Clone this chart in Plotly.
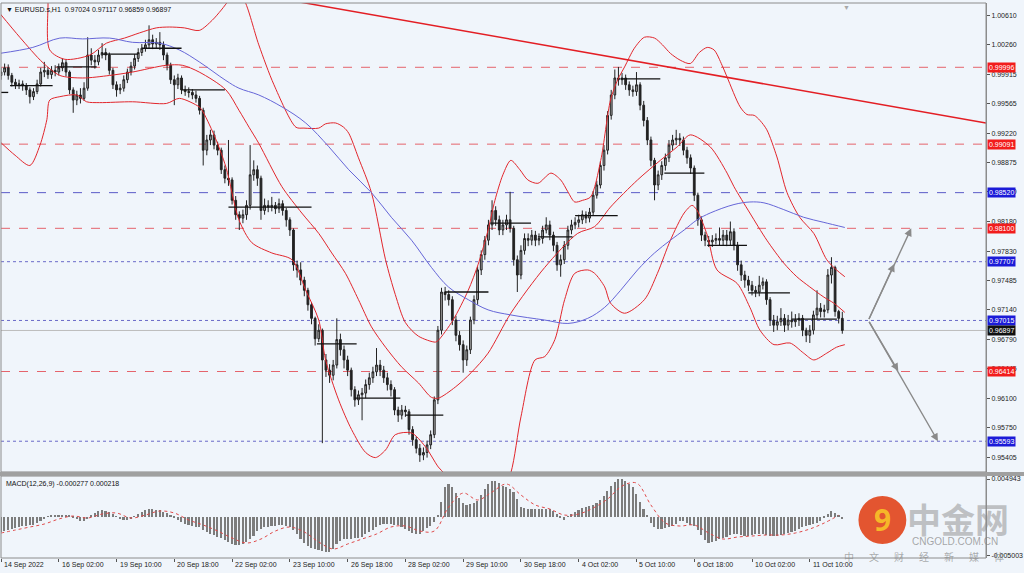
import plotly.graph_objects as go

# ---------------- DATA ----------------
bar_index = list(range(234))   # 2-hour bars
closes = [
0.9994,0.9999,0.9990,0.9982,0.9979,0.9980,0.9978,0.9973,0.9965,0.9971,0.9980,0.9994,0.9996,0.9991,0.9996,0.9994,
0.9999,1.0005,0.9994,0.9973,0.9961,0.9967,0.9963,0.9975,1.0014,1.0008,1.0006,1.0014,1.0017,1.0014,0.9996,0.9979,
0.9973,0.9975,0.9985,0.9994,1.0001,1.0010,1.0017,1.0022,1.0026,1.0032,1.0027,1.0029,1.0026,1.0014,1.0002,0.9985,
0.9979,0.9987,0.9973,0.9971,0.9970,0.9967,0.9963,0.9949,0.9902,0.9914,0.9920,0.9908,0.9902,0.9879,0.9869,0.9867,
0.9843,0.9826,0.9822,0.9826,0.9837,0.9873,0.9879,0.9869,0.9831,0.9837,0.9835,0.9837,0.9833,0.9839,0.9831,0.9820,
0.9808,0.9767,0.9761,0.9749,0.9737,0.9720,0.9704,0.9680,0.9690,0.9655,0.9643,0.9637,0.9649,0.9679,0.9667,0.9655,
0.9643,0.9620,0.9608,0.9614,0.9616,0.9626,0.9634,0.9641,0.9649,0.9643,0.9634,0.9626,0.9620,0.9596,0.9590,0.9596,
0.9594,0.9573,0.9561,0.9551,0.9543,0.9546,0.9555,0.9567,0.9608,0.9690,0.9735,0.9732,0.9726,0.9702,0.9684,0.9673,
0.9655,0.9667,0.9702,0.9726,0.9761,0.9779,0.9796,0.9814,0.9831,0.9820,0.9808,0.9814,0.9820,0.9810,0.9773,0.9755,
0.9784,0.9798,0.9796,0.9802,0.9796,0.9798,0.9808,0.9814,0.9802,0.9790,0.9767,0.9773,0.9790,0.9808,0.9814,0.9817,
0.9820,0.9826,0.9822,0.9829,0.9849,0.9861,0.9884,0.9902,0.9943,0.9967,0.9987,0.9985,0.9987,0.9979,0.9973,0.9971,
0.9979,0.9955,0.9937,0.9914,0.9890,0.9861,0.9873,0.9884,0.9893,0.9908,0.9914,0.9916,0.9914,0.9902,0.9893,0.9881,
0.9849,0.9820,0.9802,0.9796,0.9794,0.9796,0.9798,0.9796,0.9802,0.9796,0.9806,0.9790,0.9767,0.9755,0.9749,0.9743,
0.9737,0.9735,0.9743,0.9747,0.9726,0.9702,0.9696,0.9700,0.9704,0.9696,0.9702,0.9700,0.9702,0.9704,0.9690,0.9684,
0.9690,0.9708,0.9716,0.9712,0.9714,0.9755,0.9764,0.9712,0.9704,0.96897]
highs = [
0.9999,1.0004,1.0003,0.9993,0.9986,0.9985,0.9984,0.9981,0.9976,0.9975,0.9985,0.9999,1.0006,1.0000,1.0001,1.0002,
1.0004,1.0010,1.0008,0.9996,0.9976,0.9972,0.9975,0.9982,1.0035,1.0022,1.0014,1.0020,1.0028,1.0022,1.0017,0.9999,
0.9983,0.9980,0.9990,0.9998,1.0006,1.0015,1.0022,1.0027,1.0032,1.0049,1.0038,1.0034,1.0041,1.0030,1.0017,1.0005,
0.9990,0.9992,0.9990,0.9978,0.9976,0.9974,0.9972,0.9966,0.9952,0.9920,0.9926,0.9925,0.9912,0.9905,0.9884,0.9914,
0.9870,0.9848,0.9830,0.9832,0.9843,0.9908,0.9890,0.9884,0.9872,0.9845,0.9843,0.9847,0.9841,0.9845,0.9843,0.9834,
0.9823,0.9810,0.9772,0.9770,0.9753,0.9740,0.9723,0.9706,0.9697,0.9692,0.9662,0.9650,0.9655,0.9704,0.9686,0.9672,
0.9660,0.9646,0.9624,0.9619,0.9622,0.9632,0.9640,0.9647,0.9669,0.9655,0.9648,0.9640,0.9631,0.9623,0.9600,0.9602,
0.9601,0.9597,0.9577,0.9565,0.9556,0.9552,0.9560,0.9572,0.9612,0.9695,0.9740,0.9741,0.9737,0.9730,0.9707,0.9689,
0.9678,0.9672,0.9706,0.9731,0.9765,0.9784,0.9801,0.9820,0.9843,0.9836,0.9825,0.9820,0.9826,0.9853,0.9813,0.9778,
0.9790,0.9804,0.9804,0.9808,0.9807,0.9804,0.9813,0.9823,0.9819,0.9806,0.9794,0.9779,0.9795,0.9813,0.9820,0.9823,
0.9826,0.9831,0.9830,0.9834,0.9854,0.9866,0.9889,0.9908,0.9948,0.9973,0.9997,1.0000,0.9993,0.9991,0.9983,0.9978,
0.9994,0.9982,0.9960,0.9941,0.9918,0.9893,0.9878,0.9889,0.9898,0.9914,0.9920,0.9926,0.9922,0.9918,0.9906,0.9897,
0.9884,0.9852,0.9824,0.9806,0.9801,0.9802,0.9804,0.9811,0.9808,0.9808,0.9818,0.9810,0.9794,0.9772,0.9760,0.9754,
0.9748,0.9742,0.9754,0.9752,0.9750,0.9729,0.9708,0.9707,0.9716,0.9709,0.9708,0.9712,0.9709,0.9710,0.9708,0.9693,
0.9696,0.9713,0.9737,0.9722,0.9720,0.9762,0.9776,0.9766,0.9714,0.97117]
lows = [
0.9985,0.9990,0.9985,0.9977,0.9974,0.9974,0.9972,0.9967,0.9957,0.9961,0.9968,0.9977,0.9988,0.9986,0.9986,0.9989,
0.9990,0.9995,0.9989,0.9968,0.9946,0.9955,0.9957,0.9960,0.9972,1.0002,0.9998,1.0002,1.0010,1.0008,0.9991,0.9974,
0.9965,0.9968,0.9971,0.9981,0.9990,0.9997,1.0006,1.0013,1.0018,1.0022,1.0021,1.0022,1.0020,1.0008,0.9996,0.9980,
0.9955,0.9974,0.9968,0.9966,0.9964,0.9962,0.9958,0.9944,0.9884,0.9896,0.9908,0.9903,0.9896,0.9874,0.9863,0.9860,
0.9838,0.9820,0.9808,0.9816,0.9820,0.9832,0.9866,0.9860,0.9820,0.9826,0.9829,0.9830,0.9827,0.9828,0.9825,0.9812,
0.9801,0.9760,0.9752,0.9743,0.9730,0.9713,0.9697,0.9672,0.9676,0.9557,0.9635,0.9628,0.9631,0.9645,0.9660,0.9645,
0.9636,0.9612,0.9600,0.9602,0.9584,0.9610,0.9620,0.9628,0.9636,0.9636,0.9628,0.9619,0.9612,0.9590,0.9582,0.9585,
0.9588,0.9567,0.9554,0.9545,0.9535,0.9537,0.9540,0.9550,0.9563,0.9603,0.9685,0.9725,0.9719,0.9696,0.9677,0.9666,
0.9640,0.9648,0.9662,0.9697,0.9720,0.9755,0.9773,0.9790,0.9808,0.9813,0.9802,0.9802,0.9808,0.9805,0.9766,0.9735,
0.9750,0.9779,0.9789,0.9790,0.9789,0.9790,0.9792,0.9804,0.9796,0.9783,0.9760,0.9753,0.9768,0.9785,0.9803,0.9809,
0.9811,0.9815,0.9816,0.9817,0.9825,0.9845,0.9857,0.9878,0.9897,0.9938,0.9962,0.9978,0.9979,0.9973,0.9966,0.9965,
0.9966,0.9949,0.9930,0.9908,0.9883,0.9843,0.9855,0.9867,0.9878,0.9888,0.9902,0.9908,0.9907,0.9896,0.9886,0.9874,
0.9842,0.9813,0.9795,0.9789,0.9788,0.9788,0.9791,0.9790,0.9790,0.9789,0.9790,0.9784,0.9760,0.9748,0.9740,0.9736,
0.9731,0.9729,0.9730,0.9738,0.9720,0.9695,0.9688,0.9690,0.9695,0.9688,0.9690,0.9693,0.9694,0.9695,0.9683,0.9676,
0.9675,0.9685,0.9703,0.9705,0.9705,0.9710,0.9745,0.9706,0.9698,0.96859]
first_open = 0.9990
opens = [first_open] + closes[:-1]

macd_main = [
-0.00195,-0.00182,-0.00169,-0.00156,-0.00143,-0.00130,-0.00117,-0.00117,-0.00104,-0.00104,-0.00078,-0.00052,-0.00026,0.00002,0.00013,0.00013,
0.00026,0.00026,0.00026,0.00013,-0.00002,-0.00026,-0.00052,-0.00052,-0.00026,0.00013,0.00052,0.00078,0.00091,0.00078,0.00065,0.00039,
0.00002,-0.00026,-0.00039,-0.00039,-0.00026,0.00002,0.00039,0.00065,0.00091,0.00104,0.00104,0.00091,0.00091,0.00065,0.00052,0.00026,
-0.00013,-0.00039,-0.00065,-0.00091,-0.00104,-0.00117,-0.00130,-0.00130,-0.00169,-0.00195,-0.00221,-0.00234,-0.00260,-0.00273,-0.00299,-0.00325,
-0.00351,-0.00364,-0.00364,-0.00351,-0.00325,-0.00286,-0.00247,-0.00182,-0.00156,-0.00130,-0.00130,-0.00117,-0.00117,-0.00104,-0.00104,-0.00117,
-0.00130,-0.00169,-0.00221,-0.00286,-0.00338,-0.00377,-0.00403,-0.00416,-0.00429,-0.00442,-0.00455,-0.00455,-0.00416,-0.00351,-0.00312,-0.00286,
-0.00286,-0.00286,-0.00273,-0.00273,-0.00260,-0.00221,-0.00195,-0.00169,-0.00130,-0.00104,-0.00091,-0.00091,-0.00091,-0.00104,-0.00104,-0.00130,
-0.00156,-0.00182,-0.00208,-0.00221,-0.00221,-0.00182,-0.00143,-0.00117,-0.00065,0.00026,0.00195,0.00390,0.00429,0.00390,0.00312,0.00247,
0.00182,0.00156,0.00169,0.00182,0.00208,0.00286,0.00364,0.00429,0.00468,0.00468,0.00442,0.00403,0.00390,0.00364,0.00325,0.00234,
0.00130,0.00117,0.00104,0.00104,0.00104,0.00104,0.00104,0.00104,0.00104,0.00078,0.00039,-0.00013,-0.00039,0.00002,0.00039,0.00065,
0.00091,0.00117,0.00130,0.00143,0.00156,0.00182,0.00221,0.00273,0.00338,0.00403,0.00455,0.00494,0.00494,0.00468,0.00429,0.00390,
0.00299,0.00195,0.00104,0.00026,-0.00078,-0.00130,-0.00156,-0.00156,-0.00143,-0.00130,-0.00117,-0.00091,-0.00052,-0.00052,-0.00078,-0.00104,
-0.00117,-0.00169,-0.00234,-0.00299,-0.00338,-0.00325,-0.00312,-0.00286,-0.00273,-0.00260,-0.00234,-0.00221,-0.00221,-0.00234,-0.00247,-0.00247,
-0.00234,-0.00221,-0.00221,-0.00221,-0.00234,-0.00247,-0.00247,-0.00247,-0.00234,-0.00221,-0.00208,-0.00195,-0.00182,-0.00156,-0.00130,-0.00117,
-0.00104,-0.00091,-0.00078,-0.00052,-0.00013,0.00039,0.00078,0.00052,0.00026,-0.000277]
signal_x = [0,4,8,12,16,20,24,28,32,36,40,44,48,52,56,60,64,68,72,76,80,84,88,92,96,100,104,108,112,116,
            120,124,128,132,136,140,144,148,152,156,160,164,168,172,176,180,184,188,192,196,200,204,208,212,216,220,224,228,232]
signal_vals = [-0.00208,-0.00169,-0.00130,-0.00091,-0.00026,0.00013,-0.00013,0.00039,0.00052,-0.00013,0.00026,0.00078,0.00052,
               -0.00039,-0.00104,-0.00182,-0.00273,-0.00338,-0.00286,-0.00182,-0.00130,-0.00195,-0.00325,-0.00416,-0.00351,
               -0.00286,-0.00221,-0.00130,-0.00117,-0.00182,-0.00182,0.00130,0.00312,0.00221,0.00325,0.00429,0.00286,0.00156,
               0.00104,0.00026,0.00039,0.00117,0.00234,0.00403,0.00442,0.00156,-0.00078,-0.00117,-0.00104,-0.00208,-0.00286,
               -0.00260,-0.00247,-0.00234,-0.00234,-0.00208,-0.00156,-0.00078,0.000218]

# Bollinger bands
bb_up_x = [12.4,13.0,13.5,17.7,24.6,29.2,34.2,38.3,43.0,46.6,50.8,54.9,58.5,61.0,63.2,65.1,67.3,71.4,75.6,81.7,83.9,88.0,
           89.9,92.7,94.9,96.3,99.0,102.6,106.5,109.2,112.0,115.6,120.3,121.1,125.2,129.4,132.1,134.9,136.8,139.0,141.2,
           143.7,145.9,148.7,152.3,155.0,157.0,158.9,161.1,163.3,166.1,168.8,170.8,172.7,175.4,178.2,181.0,183.2,185.4,
           188.1,190.9,193.4,195.6,197.5,199.7,201.1,204.7,206.6,208.6,210.2,212.1,214.9,217.7,221.2,225.1,228.7,231.4,233.7]
bb_up_y = [1.0114,1.0079,1.0020,1.0009,1.0014,1.0028,1.0034,1.0040,1.0046,1.0047,1.0046,1.0043,1.0055,1.0067,1.0079,1.0088,
           1.0079,1.0026,0.9979,0.9929,0.9928,0.9928,0.9933,0.9934,0.9929,0.9922,0.9893,0.9852,0.9773,0.9732,0.9699,0.9683,
           0.9676,0.9678,0.9702,0.9737,0.9767,0.9808,0.9843,0.9873,0.9890,0.9879,0.9867,0.9863,0.9875,0.9867,0.9853,0.9841,
           0.9843,0.9847,0.9890,0.9961,0.9985,1.0000,1.0022,1.0035,1.0034,1.0026,1.0016,1.0008,1.0004,1.0017,1.0023,1.0020,
           1.0002,0.9988,0.9953,0.9944,0.9943,0.9937,0.9926,0.9894,0.9852,0.9823,0.9804,0.9773,0.9761,0.9753]
bb_mid_x = [-0.3,5.2,11.6,16.3,22.6,30.1,36.4,45.8,50.2,54.9,62.3,65.9,68.7,71.4,77.8,83.3,88.0,91.6,95.4,99.0,102.6,106.5,
            110.9,115.6,119.2,121.1,125.8,130.2,134.9,141.2,150.6,159.7,164.4,168.8,176.3,182.6,187.3,190.9,196.4,201.1,
            203.0,207.4,212.1,216.8,220.4,224.0,227.9,230.6,233.7]
bb_mid_y = [1.0063,1.0035,1.0005,0.9990,0.9987,0.9990,0.9994,1.0002,1.0002,0.9994,0.9973,0.9949,0.9929,0.9910,0.9859,0.9828,
            0.9804,0.9781,0.9757,0.9726,0.9694,0.9670,0.9647,0.9628,0.9611,0.9610,0.9623,0.9640,0.9663,0.9710,0.9764,0.9804,
            0.9812,0.9835,0.9867,0.9890,0.9906,0.9920,0.9906,0.9875,0.9859,0.9828,0.9796,0.9769,0.9753,0.9741,0.9729,0.9722,0.9711]
bb_low_x = [-0.3,3.9,8.0,10.8,12.7,13.5,16.3,21.0,23.7,27.3,36.4,45.8,49.4,54.9,55.7,59.0,62.3,65.9,69.5,75.0,80.6,84.4,
            88.0,89.9,93.5,97.1,101.0,103.7,106.5,109.2,113.7,117.5,121.1,123.0,126.6,132.1,137.0,141.2,144.0,147.9,150.6,
            153.4,156.1,158.9,162.5,164.4,167.2,168.8,172.7,178.2,181.8,185.4,189.2,191.4,192.8,195.6,198.3,203.9,207.4,
            210.2,214.1,218.5,222.3,225.1,228.7,231.4,233.7]
bb_low_y = [0.9912,0.9896,0.9884,0.9908,0.9938,0.9961,0.9965,0.9967,0.9959,0.9958,0.9959,0.9957,0.9963,0.9953,0.9949,0.9920,
            0.9882,0.9820,0.9793,0.9781,0.9773,0.9737,0.9702,0.9655,0.9608,0.9573,0.9546,0.9540,0.9549,0.9567,0.9569,0.9553,
            0.9529,0.9520,0.9490,0.9478,0.9478,0.9522,0.9588,0.9655,0.9659,0.9679,0.9726,0.9757,0.9761,0.9757,0.9741,0.9722,
            0.9710,0.9726,0.9757,0.9796,0.9828,0.9837,0.9831,0.9802,0.9761,0.9745,0.9717,0.9690,0.9673,0.9675,0.9663,0.9655,
            0.9663,0.9670,0.9673]
ma_x = [-0.3,8.8,16.3,22.6,30.1,36.4,43.9,49.4,54.9,62.3,65.9,71.4,77.8,84.4,90.8,96.3,102.6,108.1,113.7,119.2,123.9,129.4,
        134.9,141.2,150.6,157.0,162.5,167.2,171.6,176.3,181.0,185.4,189.2,192.8,196.4,203.0,207.4,211.3,216.8,222.3,227.9,233.7]
ma_y = [1.0016,1.0023,1.0034,1.0033,1.0034,1.0029,1.0028,1.0020,1.0006,0.9984,0.9975,0.9967,0.9953,0.9934,0.9906,0.9879,
        0.9852,0.9823,0.9796,0.9764,0.9741,0.9726,0.9714,0.9708,0.9702,0.9698,0.9704,0.9717,0.9737,0.9761,0.9781,0.9796,
        0.9808,0.9820,0.9828,0.9838,0.9841,0.9840,0.9832,0.9823,0.9817,0.9811]

# daily level segments (start bar, end bar, price)
seg_start = [-0.3,2.5,15.4,28,39,50,63,87.5,98,112,123,135.5,148.7,159,171.6,183.7,195.6,207,219]
seg_end   = [2,14.3,26.5,38,50,62,86,98.5,110.6,122.5,135,146.8,158.3,170.8,182.6,194.8,206.6,218.5,231.5]
seg_price = [0.9970,0.9978,1.0000,1.0015,1.0022,0.9973,0.9835,0.9674,0.9610,0.9590,0.9735,0.9816,0.9800,0.9825,
             0.9986,0.9875,0.9790,0.9734,0.9703]

trend_x = [79.7, 272.8]
trend_y = [1.00787, 0.99340]

level_prices = [0.99996, 0.99091, 0.98520, 0.98100, 0.97707, 0.97015, 0.96414, 0.95593]
level_kind   = ["red", "red", "blue", "red", "bluedot", "bluedot", "red", "bluedot"]
current_price = 0.96897

arrow_start = (240.2, 0.97015)
arrow_up_tip = (252.1, 0.98100)
arrow_up_mid = (247.4, 0.97680)
arrow_dn_tip = (259.5, 0.95593)
arrow_dn_mid = (248.5, 0.96420)

y_ticks = [1.00610,1.00260,0.99915,0.99565,0.99220,0.98875,0.98530,0.98180,0.97830,0.97485,0.97140,0.96790,
           0.96445,0.96100,0.95750,0.95405]
x_label_pos = [0,16,32,48,64,80,96,112,128,144,160,176,192,208,224]
x_labels = ["14 Sep 2022","16 Sep 02:00","19 Sep 10:00","20 Sep 18:00","22 Sep 02:00","23 Sep 10:00","26 Sep 18:00",
            "28 Sep 02:00","29 Sep 10:00","30 Sep 18:00","4 Oct 02:00","5 Oct 10:00","6 Oct 18:00","10 Oct 02:00",
            "11 Oct 10:00"]
macd_ticks = [0.004943, -0.005003]

# ---------------- FIGURE ----------------
FONT = "Liberation Sans"
BG = "#F0F5FB"
RED_TAG, BLUE_TAG = "#F21C1C", "#1B1BD8"
fig = go.Figure()

shapes = []
for p, k in zip(level_prices, level_kind):
    if k == "red":
        ln = dict(color="#E5646C", width=1, dash="dash")
    elif k == "blue":
        ln = dict(color="#5A5AC8", width=1, dash="dash")
    else:
        ln = dict(color="#6A6AC8", width=1, dash="dot")
    shapes.append(dict(type="line", xref="paper", yref="y", x0=0, x1=1, y0=p, y1=p, line=ln, layer="below"))
shapes.append(dict(type="line", xref="paper", yref="y", x0=0, x1=1, y0=current_price, y1=current_price,
                   line=dict(color="#BDBDBD", width=1), layer="below"))

band_line = dict(color="#E2262C", width=1, shape="spline", smoothing=0.8)
for bx, by in [(bb_up_x, bb_up_y), (bb_mid_x, bb_mid_y), (bb_low_x, bb_low_y)]:
    fig.add_trace(go.Scatter(x=bx, y=by, mode="lines", line=band_line, hoverinfo="skip", xaxis="x", yaxis="y"))
fig.add_trace(go.Scatter(x=ma_x, y=ma_y, mode="lines", line=dict(color="#6666D8", width=1, shape="spline"),
                         hoverinfo="skip", xaxis="x", yaxis="y"))

sx, sy = [], []
for a, b, p in zip(seg_start, seg_end, seg_price):
    sx += [a, b, None]
    sy += [p, p, None]
fig.add_trace(go.Scatter(x=sx, y=sy, mode="lines", line=dict(color="#111111", width=1.3), hoverinfo="skip",
                         xaxis="x", yaxis="y"))

fig.add_trace(go.Candlestick(x=bar_index, open=opens, high=highs, low=lows, close=closes,
                             increasing=dict(line=dict(color="#222222", width=1), fillcolor="#A8A8A8"),
                             decreasing=dict(line=dict(color="#222222", width=1), fillcolor="#222222"),
                             whiskerwidth=0, xaxis="x", yaxis="y", hoverinfo="skip"))

fig.add_trace(go.Scatter(x=trend_x, y=trend_y, mode="lines", line=dict(color="#E31E24", width=1.5),
                         hoverinfo="skip", xaxis="x", yaxis="y"))

fig.add_trace(go.Bar(x=bar_index, y=macd_main, width=0.45, marker=dict(color="#7C7C7C", line=dict(width=0)),
                     xaxis="x2", yaxis="y2", hoverinfo="skip"))
fig.add_trace(go.Scatter(x=signal_x, y=signal_vals, mode="lines",
                         line=dict(color="#E04A4A", width=1, dash="dot", shape="spline"),
                         xaxis="x2", yaxis="y2", hoverinfo="skip"))

annotations = []
for tip in [arrow_up_tip, arrow_up_mid, arrow_dn_tip, arrow_dn_mid]:
    annotations.append(dict(x=tip[0], y=tip[1], xref="x", yref="y", ax=arrow_start[0], ay=arrow_start[1],
                            axref="x", ayref="y", text="", showarrow=True, arrowhead=2, arrowsize=1.1,
                            arrowwidth=1.4, arrowcolor="#8A8A8A", standoff=0))

def tag(p, col):
    annotations.append(dict(x=1, y=p, xref="paper", yref="y", xanchor="left", yanchor="middle", xshift=1,
                            text="%.5f" % p, showarrow=False, bgcolor=col, borderpad=1,
                            font=dict(family=FONT, size=7, color="white")))
for p, k in zip(level_prices, level_kind):
    tag(p, RED_TAG if k == "red" else BLUE_TAG)
tag(current_price, "#111111")

for pos, lab in zip(x_label_pos, x_labels):
    annotations.append(dict(x=pos, y=0, xref="x2", yref="paper", xanchor="left", yanchor="top", xshift=1,
                            yshift=-1, text=lab, showarrow=False, font=dict(family=FONT, size=7, color="#222")))

annotations.append(dict(x=0, y=1, xref="paper", yref="paper", xanchor="left", yanchor="top", xshift=3, yshift=-1,
                        text="▼ EURUSD.s,H1  0.97024 0.97117 0.96859 0.96897", showarrow=False,
                        font=dict(family=FONT, size=7, color="#111")))
annotations.append(dict(x=0, y=0.1477, xref="paper", yref="paper", xanchor="left", yanchor="top", xshift=3,
                        yshift=-2, text="MACD(12,26,9) -0.000277 0.000218", showarrow=False,
                        font=dict(family=FONT, size=7, color="#111")))
# chart shift marker at top
annotations.append(dict(x=0.858, y=1, xref="paper", yref="paper", xanchor="center", yanchor="top", yshift=1,
                        text="▼", showarrow=False, font=dict(family=FONT, size=7, color="#A8A8A8")))

# watermark
shapes.append(dict(type="circle", xref="paper", yref="paper", x0=0.8705, x1=0.9191, y0=0.0252, y1=0.1117,
                   fillcolor="rgba(226,70,30,0.92)", line=dict(width=0), layer="above"))
annotations.append(dict(x=0.8948, y=0.0685, xref="paper", yref="paper", xanchor="center", yanchor="middle",
                        text="<b>9</b>", showarrow=False,
                        font=dict(family="Noto Sans", size=30, color="rgba(248,190,40,0.95)")))
annotations.append(dict(x=0.972, y=0.072, xref="paper", yref="paper", xanchor="center", yanchor="middle",
                        text="<b>中金网</b>", showarrow=False,
                        font=dict(family="Noto Sans CJK SC", size=34, color="rgba(140,140,140,0.5)")))
annotations.append(dict(x=0.969, y=0.029, xref="paper", yref="paper", xanchor="center", yanchor="middle",
                        text="CNGOLD.COM.CN", showarrow=False,
                        font=dict(family=FONT, size=10, color="rgba(130,130,130,0.7)")))
annotations.append(dict(x=0.937, y=0.003, xref="paper", yref="paper", xanchor="center", yanchor="middle",
                        text="中\u2003\u2002文\u2003\u2002财\u2003\u2002经\u2003\u2002新\u2003\u2002媒\u2003\u2002体",
                        showarrow=False, font=dict(family="Noto Sans CJK SC", size=10, color="rgba(130,130,130,0.65)")))

shapes.append(dict(type="rect", xref="paper", yref="paper", x0=0, x1=1, y0=0.155, y1=1,
                   line=dict(color="#8C8C8C", width=1), layer="above"))
shapes.append(dict(type="rect", xref="paper", yref="paper", x0=0, x1=1, y0=0, y1=0.1477,
                   line=dict(color="#8C8C8C", width=1), layer="above"))
shapes.append(dict(type="rect", xref="paper", yref="paper", x0=-0.01, x1=1.04, y0=0.1477, y1=0.155,
                   fillcolor="#A0A0A0", line=dict(width=0), layer="above"))

fig.update_layout(
    width=1024, height=573, margin=dict(l=1, r=34, t=3, b=15),
    paper_bgcolor=BG, plot_bgcolor=BG, showlegend=False,
    xaxis=dict(domain=[0, 1], anchor="y", range=[0, 272.8], showticklabels=False, showgrid=False,
               zeroline=False, rangeslider=dict(visible=False), fixedrange=True),
    xaxis2=dict(domain=[0, 1], anchor="y2", matches="x", range=[0, 272.8], showgrid=False, zeroline=False,
                ticks="outside", tickvals=x_label_pos, ticklen=3, tickcolor="#555", showticklabels=False),
    yaxis=dict(domain=[0.155, 1], anchor="x", side="right", range=[0.95231, 1.00753], tickvals=y_ticks,
               ticktext=["%.5f" % v for v in y_ticks], tickfont=dict(family=FONT, size=7, color="#222"),
               ticks="outside", ticklen=3, tickcolor="#555", showgrid=False, zeroline=False,
               showline=True, linecolor="#8C8C8C"),
    yaxis2=dict(domain=[0, 0.1477], anchor="x2", side="right", range=[-0.00533, 0.00533], tickvals=macd_ticks,
                ticktext=["0.004943", "-0.005003"], tickfont=dict(family=FONT, size=7, color="#222"),
                ticks="outside", ticklen=3, tickcolor="#555", showgrid=False, zeroline=False,
                showline=True, linecolor="#8C8C8C"),
    bargap=0, shapes=shapes, annotations=annotations,
)

fig.write_html("out.html", config={"displayModeBar": False},
               post_script="document.body.style.margin='0';document.body.style.overflow='hidden';")
